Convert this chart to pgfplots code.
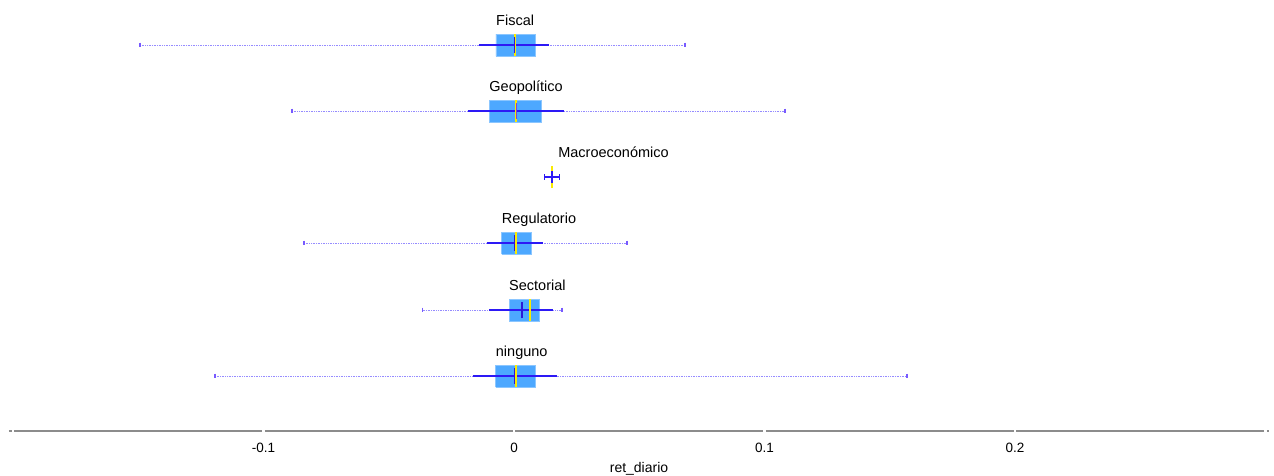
\documentclass[border=0pt]{standalone}
\usepackage{fontspec}
\setmainfont{Liberation Sans}
\usepackage{pgfplots}
\pgfplotsset{compat=1.18}
\definecolor{boxblue}{RGB}{77,168,255}
\definecolor{linecol}{RGB}{45,25,245}
\definecolor{dotcol}{RGB}{150,140,255}
\definecolor{endcol}{RGB}{120,90,255}
\definecolor{medcol}{RGB}{250,235,0}
\definecolor{meancol}{RGB}{45,25,215}
\definecolor{purpcol}{RGB}{125,70,215}
\definecolor{axgray}{RGB}{140,140,140}
\newcommand{\lab}{\fontsize{14.5}{16}\selectfont}
\pgfplotsset{
  rng/.style={dotcol, densely dotted, line width=0.7pt, mark=|, mark size=2.4pt, mark options={solid, endcol, line width=1.8pt}},
  bx/.style={fill=boxblue, draw=boxblue!65!white, line width=0.6pt},
  sl/.style={linecol, line width=1.5pt},
  md/.style={medcol, line width=1.6pt},
  mn/.style={meancol, line width=1.5pt},
}
\begin{document}
\begin{tikzpicture}
\useasboundingbox (0,0) rectangle (1274pt,-475pt);
\begin{axis}[
  at={(9pt,0pt)}, anchor=north west,
  scale only axis, width=1260pt, height=431pt,
  xmin=-0.2016, xmax=0.3014,
  ymin=-431, ymax=0,
  clip=false,
  axis y line=none,
  axis x line=bottom,
  axis line style={axgray, line width=1.6pt, -, dash pattern=on 248pt off 2.5pt, dash phase=245.25pt},
  xtick={-0.2,-0.1,0,0.1,0.2,0.3},
  xticklabels={,-0.1,0,0.1,0.2,},
  major tick length=0pt,
  xticklabel style={anchor=base, yshift=-21pt, font=\fontsize{13.5}{15}\selectfont},
  xlabel={ret\_diario},
  xlabel style={at={(axis description cs:0.5,0)}, anchor=base, yshift=-41pt, font=\fontsize{14}{16}\selectfont},
]
% ---------- dotted range lines (min..max) ----------
\addplot[rng] coordinates {(-0.1493,-45) (0.0683,-45)};
\addplot[rng] coordinates {(-0.0886,-111) (0.1082,-111)};
\addplot[rng] coordinates {(-0.0838,-243) (0.0451,-243)};
\addplot[rng] coordinates {(-0.0365,-310) (0.0193,-310)};
\addplot[rng] coordinates {(-0.1194,-376) (0.1569,-376)};
% ---------- boxes (q1..q3) ----------
\addplot[bx] coordinates {(-0.0072,-56) (0.0084,-56) (0.0084,-34) (-0.0072,-34) (-0.0072,-56)};
\addplot[bx] coordinates {(-0.0099,-122) (0.0108,-122) (0.0108,-100) (-0.0099,-100) (-0.0099,-122)};
\addplot[bx] coordinates {(-0.0049,-254) (0.0069,-254) (0.0069,-232) (-0.0049,-232) (-0.0049,-254)};
\addplot[bx] coordinates {(-0.0020,-321) (0.0099,-321) (0.0099,-299) (-0.0020,-299) (-0.0020,-321)};
\addplot[bx] coordinates {(-0.0073,-387) (0.0084,-387) (0.0084,-365) (-0.0073,-365) (-0.0073,-387)};
% ---------- solid blue lines ----------
\addplot[sl] coordinates {(-0.0140,-45) (0.0141,-45)};
\addplot[sl] coordinates {(-0.0185,-111) (0.0201,-111)};
\addplot[sl, mark=|, mark size=2.7pt, mark options={line width=1.3pt}] coordinates {(0.0122,-177) (0.0182,-177)};
\addplot[sl] coordinates {(-0.0109,-243) (0.0115,-243)};
\addplot[sl] coordinates {(-0.0099,-310) (0.0156,-310)};
\addplot[sl] coordinates {(-0.0165,-376) (0.0170,-376)};
% ---------- medians (yellow) ----------
\addplot[md] coordinates {(0.0004,-56) (0.0004,-34)};
\addplot[md] coordinates {(0.0009,-122) (0.0009,-100)};
\addplot[md] coordinates {(0.0152,-188) (0.0152,-166)};
\addplot[md] coordinates {(0.0008,-254) (0.0008,-232)};
\addplot[md] coordinates {(0.0064,-321) (0.0064,-299)};
\addplot[md] coordinates {(0.0007,-387) (0.0007,-365)};
% ---------- means ----------
\addplot[mn] coordinates {(0.0001,-53) (0.0001,-37)};
\addplot[mn, purpcol] coordinates {(0.0009,-119) (0.0009,-103)};
\addplot[mn, linecol] coordinates {(0.0152,-183) (0.0152,-171)};
\addplot[mn] coordinates {(0.0001,-251) (0.0001,-235)};
\addplot[mn] coordinates {(0.0032,-318) (0.0032,-302)};
\addplot[mn] coordinates {(0.0001,-384) (0.0001,-368)};
% ---------- labels ----------
\node[anchor=base west, font=\lab, inner sep=0pt] at (axis cs:-0.0072,-25.5) {Fiscal};
\node[anchor=base west, font=\lab, inner sep=0pt] at (axis cs:-0.0099,-91.5) {Geopolítico};
\node[anchor=base west, font=\lab, inner sep=0pt] at (axis cs:0.0176,-157) {Macroeconómico};
\node[anchor=base west, font=\lab, inner sep=0pt] at (axis cs:-0.0049,-223) {Regulatorio};
\node[anchor=base west, font=\lab, inner sep=0pt] at (axis cs:-0.0020,-290) {Sectorial};
\node[anchor=base west, font=\lab, inner sep=0pt] at (axis cs:-0.0073,-356) {ninguno};
\end{axis}
\end{tikzpicture}
\end{document}
